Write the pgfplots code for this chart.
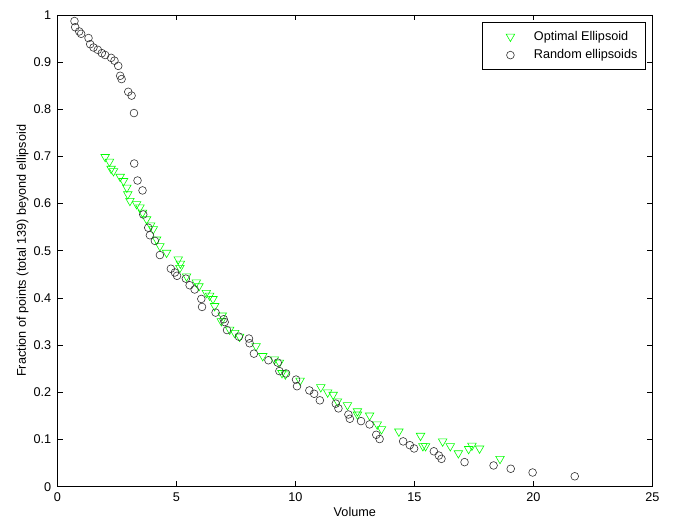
\documentclass[border=0pt]{standalone}
\usepackage{pgfplots}
\pgfplotsset{compat=1.18}
\usepackage{fontspec}
\setmainfont{Liberation Sans}
\definecolor{mgreen}{RGB}{0,255,0}
\begin{document}
\begin{tikzpicture}
\begin{axis}[
  at={(0,0)}, anchor=south west,
  scale only axis, width=446.25pt, height=353.8pt,
  xmin=0, xmax=25, ymin=0, ymax=1,
  xtick={0,5,10,15,20,25},
  xticklabels={0,5,10,15,20,25},
  ytick={0,0.1,0.2,0.3,0.4,0.5,0.6,0.7,0.8,0.9,1},
  yticklabels={0,0.1,0.2,0.3,0.4,0.5,0.6,0.7,0.8,0.9,1},
  tick align=inside, major tick length=4pt,
  tick style={black, line width=0.5pt},
  axis line style={black, line width=0.5pt},
  font=\fontsize{9.5}{11}\selectfont,
  xticklabel style={yshift=-1pt},
  yticklabel style={xshift=-1pt},
  xlabel={Volume},
  ylabel={Fraction of points (total 139) beyond ellipsoid},
  xlabel style={yshift=3pt},
  ylabel style={yshift=-3pt},
  legend style={at={(0.989,0.985)}, anchor=north east, draw=black, line width=0.5pt,
    font=\fontsize{9.5}{11}\selectfont, inner xsep=4pt, inner ysep=4.5pt, row sep=1.5pt},
  legend cell align=left,
  legend image code/.code={\path[draw=none] (0,0) (1.15cm,0); \draw[#1] plot coordinates {(0.6cm,0cm)};},
]
\addplot[only marks, mark=triangle, mark size=3.7pt, color=mgreen,
  mark options={rotate=180, line width=0.45pt, fill=none}] coordinates {
(2.01,0.699) (2.19,0.689) (2.26,0.674) (2.36,0.669) (2.64,0.657) (2.78,0.648)
(2.92,0.634) (2.96,0.620) (3.05,0.606) (3.33,0.599) (3.47,0.592) (3.58,0.581)
(3.75,0.567) (3.92,0.554) (4.03,0.546) (4.17,0.524) (4.31,0.510) (4.59,0.496)
(5.08,0.482) (5.17,0.473) (5.15,0.464) (5.43,0.446) (5.84,0.433) (5.95,0.425)
(6.26,0.411) (6.40,0.405) (6.54,0.398) (6.61,0.383) (6.93,0.363) (6.89,0.351)
(7.24,0.333) (7.45,0.326) (7.66,0.318) (8.35,0.298) (8.63,0.277) (9.12,0.270)
(9.33,0.263) (9.44,0.241) (9.58,0.238) (10.20,0.225) (11.07,0.211) (11.36,0.200)
(11.59,0.195) (11.77,0.181) (12.19,0.173) (12.61,0.160) (12.61,0.153) (13.12,0.151)
(13.44,0.132) (13.62,0.122) (14.35,0.117) (15.26,0.108) (15.36,0.086) (15.47,0.086)
(16.19,0.096) (16.51,0.086) (16.85,0.071) (17.28,0.080) (17.42,0.087) (17.74,0.081)
(18.60,0.059)
};
\addlegendentry{Optimal Ellipsoid}
\addplot[only marks, mark=o, mark size=2.9pt, color=black!80,
  mark options={line width=0.45pt}] coordinates {
(0.72,0.987) (0.75,0.974) (0.92,0.965) (1.00,0.960) (1.31,0.951) (1.38,0.938)
(1.52,0.931) (1.70,0.926) (1.87,0.919) (2.01,0.915) (2.26,0.909) (2.40,0.903)
(2.56,0.892) (2.64,0.871) (2.70,0.864) (2.98,0.837) (3.12,0.829) (3.22,0.792)
(3.23,0.685) (3.37,0.649) (3.58,0.628) (3.61,0.577) (3.82,0.549) (3.89,0.533)
(4.10,0.521) (4.31,0.491) (4.77,0.462) (4.94,0.454) (5.03,0.447) (5.40,0.441)
(5.56,0.427) (5.77,0.418) (6.05,0.398) (6.08,0.381) (6.65,0.369) (6.99,0.355)
(7.03,0.349) (7.13,0.332) (7.63,0.318) (8.05,0.314) (8.08,0.304) (8.26,0.282)
(8.87,0.268) (9.26,0.263) (9.33,0.245) (9.61,0.240) (10.03,0.227) (10.07,0.213)
(10.59,0.204) (10.79,0.197) (11.03,0.183) (11.70,0.176) (11.81,0.166) (12.23,0.153)
(12.29,0.144) (12.76,0.139) (13.12,0.132) (13.40,0.110) (13.54,0.101) (14.53,0.096)
(14.81,0.088) (14.99,0.081) (15.82,0.075) (16.03,0.066) (16.14,0.059) (17.11,0.052)
(18.33,0.045) (19.05,0.038) (19.97,0.030) (21.74,0.022)
};
\addlegendentry{Random ellipsoids}
\end{axis}
\pgfresetboundingbox
\path (-43pt,-26.5pt) rectangle (461.75pt,365pt);
\end{tikzpicture}
\end{document}
